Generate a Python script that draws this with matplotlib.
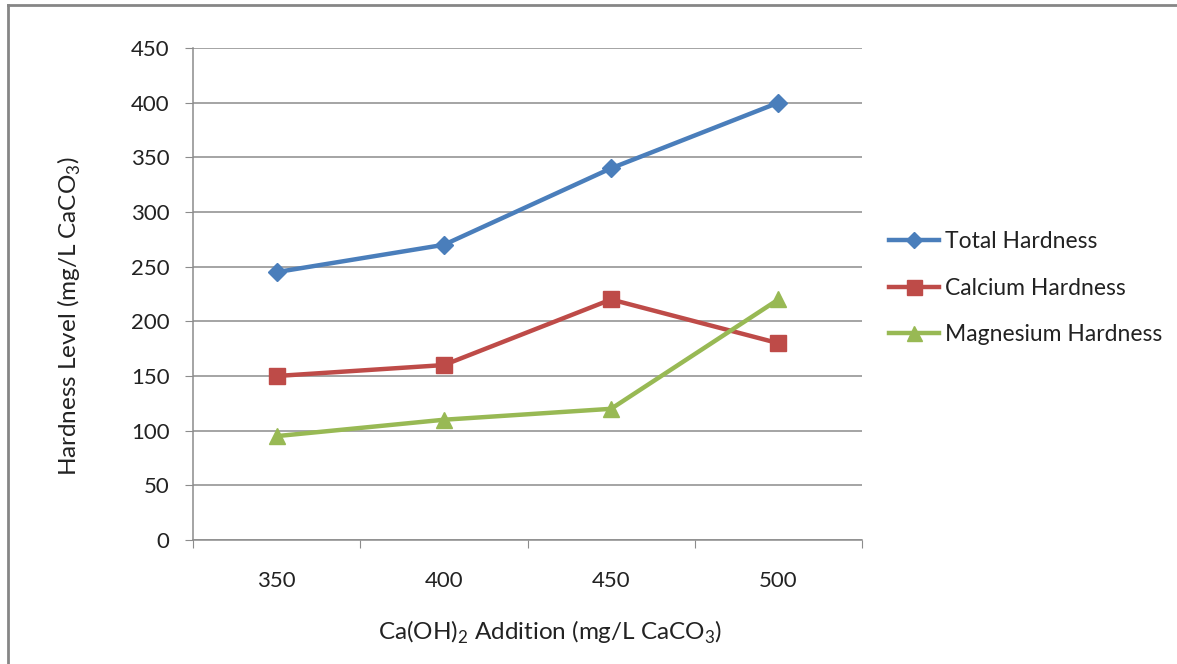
import matplotlib
matplotlib.use("Agg")
import matplotlib.pyplot as plt
from matplotlib.lines import Line2D

plt.rcParams['font.family'] = ['Lato', 'DejaVu Sans']
plt.rcParams['mathtext.fontset'] = 'custom'
plt.rcParams['mathtext.rm'] = 'Lato'

# Ca(OH)2 dose, mg/L as CaCO3
doses = ['350', '400', '450', '500']
total_hardness = [245, 270, 340, 400]
calcium_hardness = [150, 160, 220, 180]
magnesium_hardness = [95, 110, 120, 220]
y_ticks = [0, 50, 100, 150, 200, 250, 300, 350, 400, 450]

W, H = 1177, 664
fig = plt.figure(figsize=(W / 100, H / 100), dpi=100)
ax = fig.add_axes([193 / W, (H - 540) / H, (862 - 193) / W, (540 - 48) / H])

x = range(len(doses))
ax.plot(x, total_hardness, color='#4A7EBB', lw=3.2, marker='D', ms=9,
        label='Total Hardness')
ax.plot(x, calcium_hardness, color='#BE4B48', lw=3.2, marker='s', ms=12,
        label='Calcium Hardness')
ax.plot(x, magnesium_hardness, color='#98B954', lw=3.2, marker='^', ms=12,
        label='Magnesium Hardness')

ax.set_xlim(-0.5, len(doses) - 0.5)
ax.set_ylim(0, 450)
ax.set_yticks(y_ticks)
ax.yaxis.grid(True, color='#8C8C8C', lw=1.1)
ax.set_axisbelow(True)

# category labels sit between boundary ticks
ax.set_xticks([i - 0.5 for i in range(len(doses) + 1)])
ax.set_xticklabels([])
ax.set_xticks(list(x), minor=True)
ax.set_xticklabels(doses, minor=True)
ax.tick_params(axis='x', which='major', length=6, color='#8C8C8C')
ax.tick_params(axis='x', which='minor', length=0, pad=22, labelsize=16,
               labelcolor='#222222')
ax.tick_params(axis='y', length=6, color='#8C8C8C', labelsize=16,
               labelcolor='#222222', pad=11)

for side in ['top', 'right']:
    ax.spines[side].set_visible(False)
for side in ['left', 'bottom']:
    ax.spines[side].set_color('#8C8C8C')
    ax.spines[side].set_linewidth(1.1)

ax.set_xlabel(r'Ca(OH)$_\mathregular{2}$ Addition (mg/L CaCO$_\mathregular{3}$)',
              fontsize=17.5, color='#222222')
ax.xaxis.set_label_coords(0.534, -0.16)
ax.set_ylabel(r'Hardness Level (mg/L CaCO$_\mathregular{3}$)',
              fontsize=17.5, color='#222222')
ax.yaxis.set_label_coords(-0.165, 0.455)

leg = ax.legend(loc='center left', bbox_to_anchor=(1.040, 0.512), frameon=False,
                fontsize=16.5, handlelength=2.2, handletextpad=0.25,
                labelspacing=1.1, markerscale=0.9, borderpad=0, borderaxespad=0)
for t in leg.get_texts():
    t.set_color('#222222')

# chart area border
fig.add_artist(Line2D([8 / W, 8 / W], [0, 1 - 5 / H], transform=fig.transFigure,
                      color='#868686', lw=2))
fig.add_artist(Line2D([8 / W, 1], [1 - 5 / H, 1 - 5 / H], transform=fig.transFigure,
                      color='#868686', lw=2))

fig.savefig('out.png', dpi=100, facecolor='white')
